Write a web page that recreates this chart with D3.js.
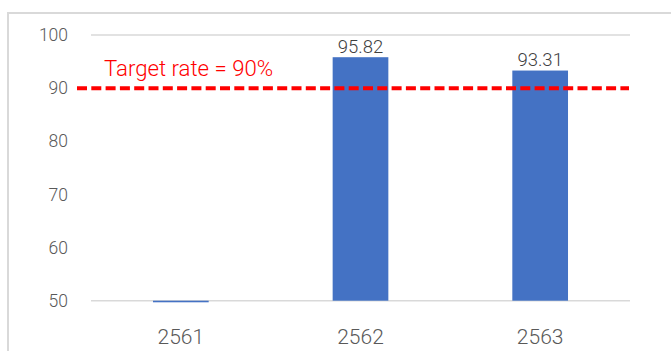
<!DOCTYPE html>
<html><head><meta charset="utf-8">
<script src="https://cdn.jsdelivr.net/npm/d3@7"></script>
<style>
html,body{margin:0;padding:0;background:#fff;}
svg{display:block;}
text{font-family:Roboto,"Noto Sans",sans-serif;}
</style></head>
<body>
<svg id="c" width="671" height="351"></svg>
<script>
const categories = ["2561", "2562", "2563"];
const values = [49.7, 95.82, 93.31];
const valueLabels = ["", "95.82", "93.31"];
const yTicks = [50, 60, 70, 80, 90, 100];
const targetValue = 90;
const targetLabel = "Target rate = 90%";

const svg = d3.select("#c");
const W = 671, H = 351;

// outer frame
svg.append("path").attr("d", `M8,${H} L8,13 L${W},13`)
  .attr("fill", "none").attr("stroke", "#d9d9d9").attr("stroke-width", 2);

const x = d3.scaleBand().domain(categories).range([91, 630]).paddingInner(0.69).paddingOuter(0.345);
const y = d3.scaleLinear().domain([50, 100]).range([300.7, 35]);

// gridlines at top and bottom (only visible)
[100, 50].forEach(v => {
  svg.append("line").attr("x1", 91).attr("x2", 630).attr("y1", y(v)).attr("y2", y(v))
    .attr("stroke", "#d9d9d9").attr("stroke-width", 1.5);
});

// y axis labels
const yAxis = d3.axisLeft(y).tickValues(yTicks).tickSize(0).tickPadding(0);
const ga = svg.append("g").attr("transform", "translate(68,0)").call(yAxis);
ga.select(".domain").remove();
ga.selectAll("text").attr("font-size", 17.5).attr("fill", "#595959")
  .attr("font-family", "Roboto, 'Noto Sans', sans-serif").attr("font-weight", 300);

// x axis labels
const xAxis = d3.axisBottom(x).tickSize(0).tickPadding(0);
const gx = svg.append("g").attr("transform", "translate(0,329)").call(xAxis);
gx.select(".domain").remove();
gx.selectAll("text").attr("font-size", 21).attr("fill", "#595959")
  .attr("font-family", "Roboto, 'Noto Sans', sans-serif").attr("font-weight", 300);

// bars
svg.selectAll("rect.bar").data(values).join("rect").attr("class", "bar")
  .attr("x", (d, i) => x(categories[i]))
  .attr("width", x.bandwidth())
  .attr("y", d => Math.min(y(d), y(50)))
  .attr("height", d => Math.abs(y(50) - y(d)))
  .attr("fill", "#4472c4");

// value labels
svg.selectAll("text.vl").data(values).join("text").attr("class", "vl")
  .attr("x", (d, i) => x(categories[i]) + x.bandwidth() / 2)
  .attr("y", d => y(d) - 4.5)
  .attr("text-anchor", "middle").attr("font-size", 18.5).attr("font-weight", 300)
  .attr("fill", "#404040")
  .text((d, i) => valueLabels[i]);

// target line
svg.append("line").attr("x1", 77).attr("x2", 629).attr("y1", y(targetValue)).attr("y2", y(targetValue))
  .attr("stroke", "#ff0000").attr("stroke-width", 4).attr("stroke-dasharray", "10,4.3");

svg.append("text").attr("x", 104).attr("y", 76).attr("font-size", 22.2).attr("font-weight", 300)
  .attr("fill", "#ff0000").text(targetLabel);
</script>
</body></html>
